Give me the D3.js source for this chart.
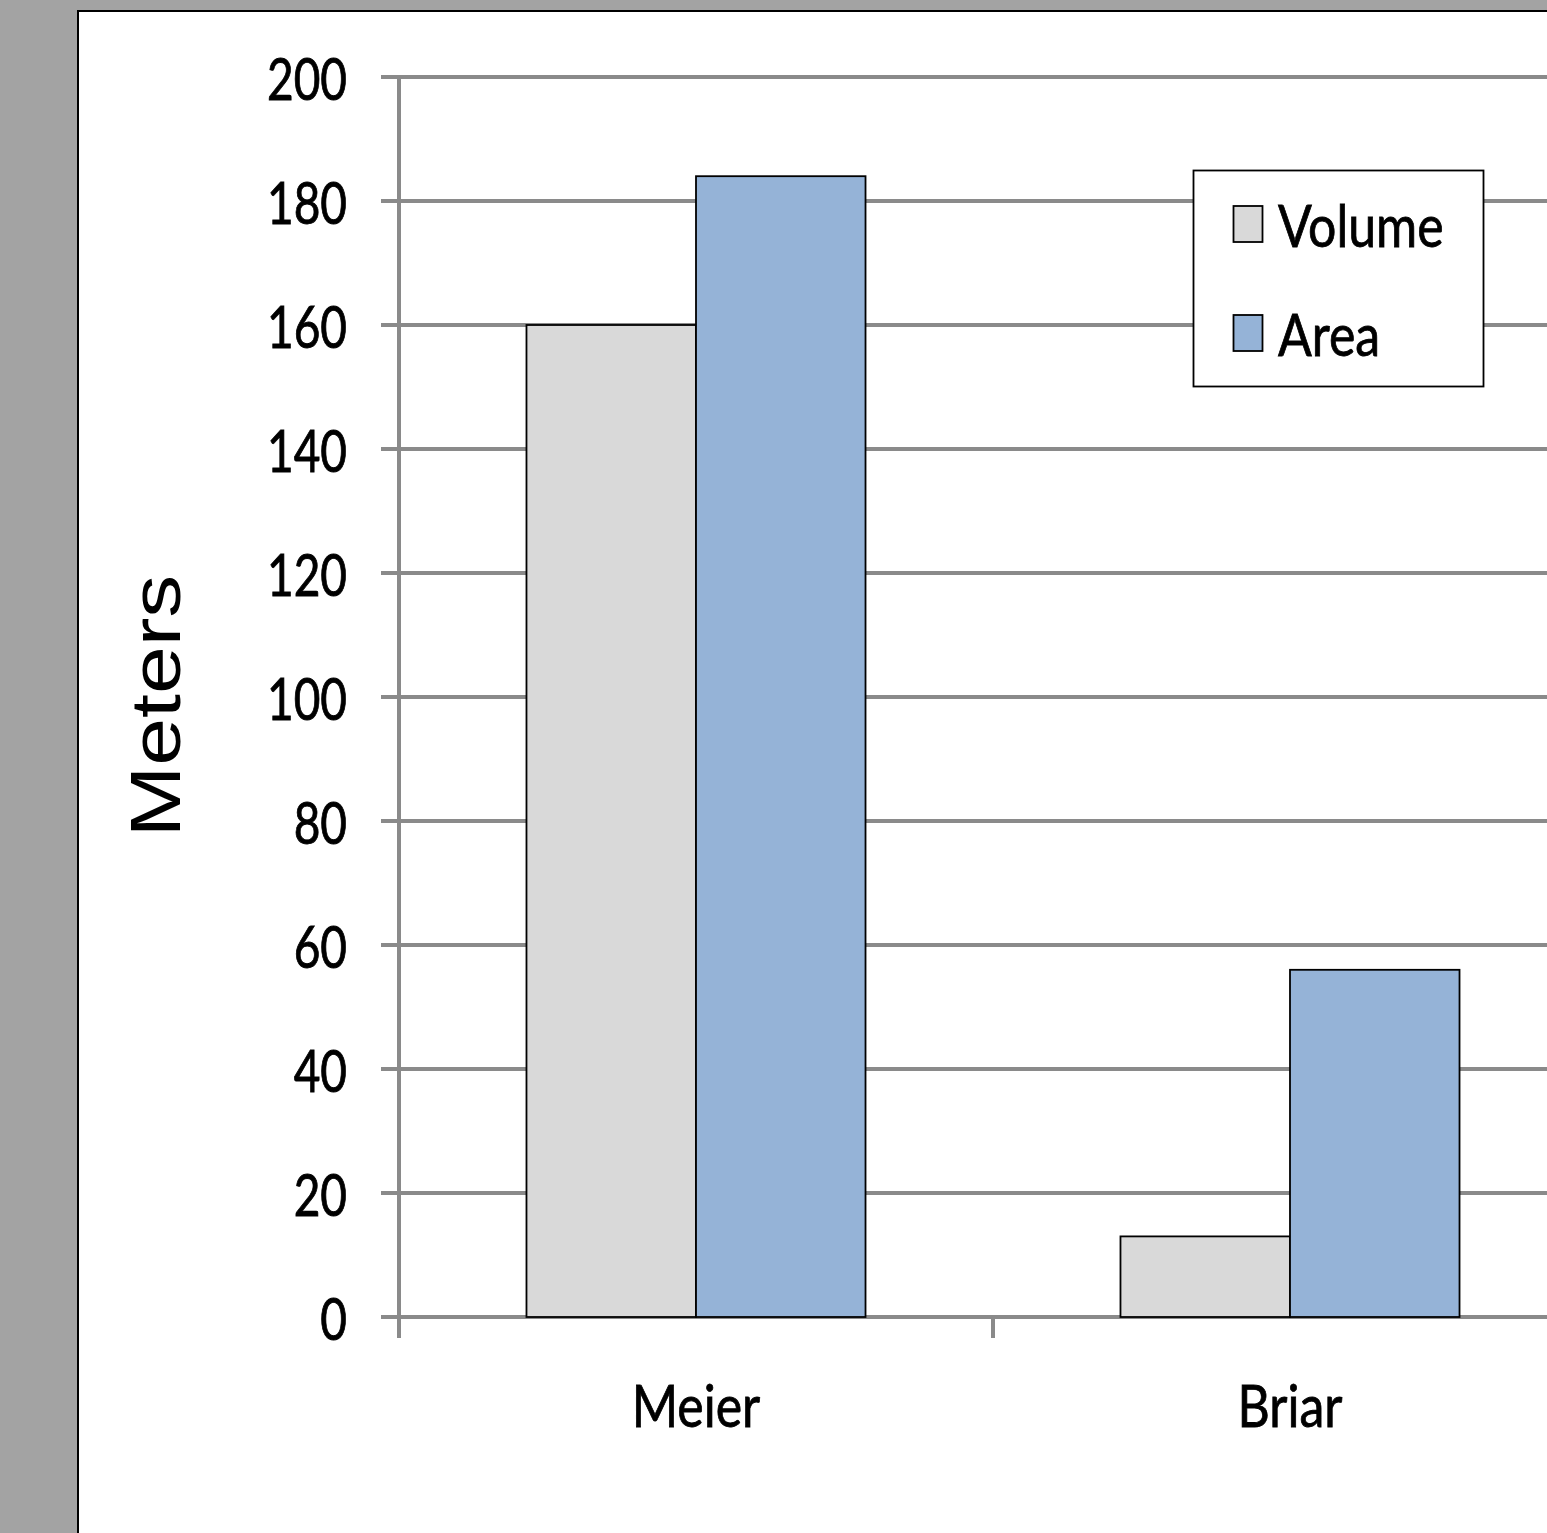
<!DOCTYPE html>
<html><head><meta charset="utf-8">
<script src="https://cdn.jsdelivr.net/npm/d3@7"></script>
<style>html,body{margin:0;padding:0;background:#a3a3a3;overflow:hidden}</style>
</head><body><svg id="chart" width="1547" height="1533"></svg>
<script>
// Data
const categories = ["Meier", "Briar"];
const seriesNames = ["Volume", "Area"];
const volumeValues = [160, 13];
const areaValues = [184, 56];
const yTickValues = [0, 20, 40, 60, 80, 100, 120, 140, 160, 180, 200];
const yTitle = "Meters";
const seriesColors = ["#d9d9d9", "#95b3d7"];

const W = 1547, H = 1533;
const labelFont = "Lato, 'Open Sans', sans-serif";
const gridColor = "#8a8a8a";

// tall, narrow lettering: helper that applies the shared text style
function styleLabel(sel, size) {
  return sel.style("font-family", labelFont).style("font-size", size + "px")
    .attr("fill", "#000").attr("stroke", "#000").attr("stroke-width", 0.7);
}

const svg = d3.select("#chart");
svg.append("rect").attr("width", W).attr("height", H).attr("fill", "#a3a3a3");
svg.append("rect").attr("x", 78).attr("y", 11).attr("width", W).attr("height", H)
  .attr("fill", "#fff").attr("stroke", "#000").attr("stroke-width", 2);

const plot = {left: 399, top: 77, bottom: 1317, right: 1587};
const y = d3.scaleLinear().domain([0, 200]).range([plot.bottom, plot.top]);
const x0 = d3.scaleBand().domain(categories).range([plot.left, plot.right]).padding(0);
const x1 = d3.scaleBand().domain(seriesNames).range([0, x0.bandwidth()])
  .paddingInner(0).paddingOuter(0.752);
const color = d3.scaleOrdinal().domain(seriesNames).range(seriesColors);

const rows = categories.map((c, i) => ({category: c, values: [volumeValues[i], areaValues[i]]}));

// Horizontal gridlines with short ticks left of the axis
svg.append("g").selectAll("line").data(yTickValues).join("line")
  .attr("x1", plot.left - 18).attr("x2", W)
  .attr("y1", d => y(d)).attr("y2", d => y(d))
  .attr("stroke", gridColor).attr("stroke-width", 4);

// Vertical axis line
svg.append("line").attr("x1", plot.left).attr("x2", plot.left)
  .attr("y1", plot.top - 2).attr("y2", plot.bottom + 21)
  .attr("stroke", gridColor).attr("stroke-width", 4);

// Category boundary ticks
const boundaries = categories.slice(1).map(c => x0(c));
svg.append("g").selectAll("line").data(boundaries).join("line")
  .attr("x1", d => d).attr("x2", d => d)
  .attr("y1", plot.bottom).attr("y2", plot.bottom + 21)
  .attr("stroke", gridColor).attr("stroke-width", 4);

// Y tick labels
const yAxis = d3.axisLeft(y).tickValues(yTickValues).tickSize(0).tickPadding(0);
const gy = svg.append("g").attr("transform", `translate(${plot.left},0)`).call(yAxis);
gy.select(".domain").remove();
styleLabel(gy.selectAll(".tick text"), 46)
  .attr("x", null).attr("dy", null)
  .attr("transform", "translate(-52,0) scale(1,1.27)")
  .attr("dominant-baseline", "central")
  .attr("text-anchor", "end");

// Bars
const groups = svg.append("g").selectAll("g").data(rows).join("g")
  .attr("transform", d => `translate(${x0(d.category)},0)`);
groups.selectAll("rect")
  .data(d => d.values.map((v, k) => ({series: seriesNames[k], value: v})))
  .join("rect")
  .attr("x", d => x1(d.series))
  .attr("width", x1.bandwidth())
  .attr("y", d => y(d.value))
  .attr("height", d => y(0) - y(d.value))
  .attr("fill", d => color(d.series))
  .attr("stroke", "#000").attr("stroke-width", 1.8);

// Category labels
styleLabel(svg.append("g").selectAll("text").data(categories).join("text"), 50)
  .attr("transform", d => `translate(${x0(d) + x0.bandwidth() / 2},1404) scale(1,1.18)`)
  .attr("text-anchor", "middle").attr("dominant-baseline", "central")
  .text(d => d);

// Axis title
svg.append("text")
  .attr("transform", "translate(180,706) rotate(-90) scale(1.21,1)")
  .attr("text-anchor", "middle")
  .style("font-family", "'Liberation Sans', Arial, sans-serif").style("font-size", "71px")
  .text(yTitle);

// Legend
const legend = svg.append("g");
legend.append("rect").attr("x", 1193.5).attr("y", 170.5).attr("width", 290).attr("height", 216)
  .attr("fill", "#fff").attr("stroke", "#000").attr("stroke-width", 1.8);
const items = legend.selectAll("g.item").data(seriesNames).join("g").attr("class", "item")
  .attr("transform", (d, i) => `translate(0,${224 + i * 109})`);
items.append("rect").attr("x", 1233.5).attr("y", -18).attr("width", 29).attr("height", 36)
  .attr("fill", d => color(d)).attr("stroke", "#000").attr("stroke-width", 1.8);
styleLabel(items.append("text"), 50)
  .attr("transform", "translate(1278,0) scale(1,1.18)")
  .attr("dominant-baseline", "central")
  .text(d => d);
</script></body></html>
